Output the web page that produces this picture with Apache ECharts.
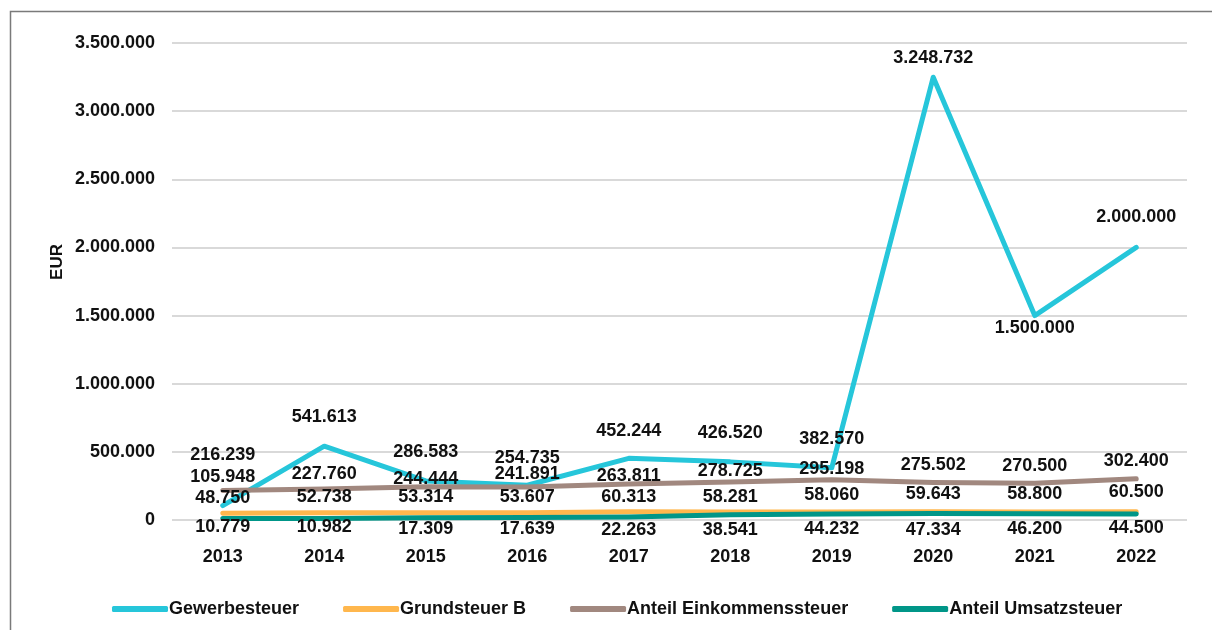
<!DOCTYPE html>
<html>
<head>
<meta charset="utf-8">
<script src="https://cdn.jsdelivr.net/npm/echarts@6/dist/echarts.min.js"></script>
<style>
  html, body { margin: 0; padding: 0; background: #fff; }
  #chart { width: 1212px; height: 630px; }
</style>
</head>
<body>
<div id="chart"></div>
<script>
const years = ['2013', '2014', '2015', '2016', '2017', '2018', '2019', '2020', '2021', '2022']
const gewerbesteuer = [105948, 541613, 286583, 254735, 452244, 426520, 382570, 3248732, 1500000, 2000000]
const grundsteuerB = [48750, 52738, 53314, 53607, 60313, 58281, 58060, 59643, 58800, 60500]
const einkommensteuer = [216239, 227760, 244444, 241891, 263811, 278725, 295198, 275502, 270500, 302400]
const umsatzsteuer = [10779, 10982, 17309, 17639, 22263, 38541, 44232, 47334, 46200, 44500]
const yTicks = [0, 500000, 1000000, 1500000, 2000000, 2500000, 3000000, 3500000]

// vertical shift of each data label (px, from the point), like the source layout
const gewShift = [-29, -29, -29, -27, -27, -29, -29, -19, 12, -30]
const grundShift = [-15, -16, -16, -16, -15, -15, -17, -18, -18, -20]
const einkShift = [-35, -15, -8, -13, -8, -11, -11, -17, -17, -18]
const umsShift = [9, 9, 11, 11, 13, 15, 15, 16, 15, 14]

const font = '"Liberation Sans", Arial, sans-serif'
// 1234567 -> 1.234.567
const fmt = v => String(v).replace(/\B(?=(\d{3})+(?!\d))/g, '.')

function makeSeries(name, values, shift, color) {
    return {
        name: name,
        type: 'line',
        symbol: 'circle',
        symbolSize: 0.1,
        lineStyle: { width: 5, color: color, cap: 'round', join: 'round' },
        itemStyle: { color: color },
        data: values.map((v, i) => ({
            value: v,
            label: { offset: [0, shift[i]] }
        })),
        label: {
            show: true,
            position: 'inside',
            color: '#111',
            fontSize: 18,
            fontWeight: 'bold',
            fontFamily: font,
            formatter: p => fmt(p.value)
        },
        emphasis: { disabled: true },
        animation: false
    }
}

let chart = echarts.init(document.getElementById('chart'))
chart.setOption({
    backgroundColor: '#fff',
    grid: { left: 172, right: 25, top: 43, bottom: 110 },
    graphic: [
        {
            type: 'rect',
            shape: { x: 10.5, y: 11.5, width: 1300, height: 700 },
            style: { fill: 'none', stroke: '#7a7a7a', lineWidth: 1.5 },
            silent: true
        },
        {
            type: 'text',
            x: 57, y: 262,
            rotation: Math.PI / 2,
            style: {
                text: 'EUR',
                fill: '#111',
                font: 'bold 17px ' + font,
                textAlign: 'center',
                textVerticalAlign: 'middle'
            }
        }
    ],
    legend: {
        left: 107,
        top: 595,
        itemWidth: 56,
        itemHeight: 6,
        itemGap: 44,
        icon: 'roundRect',
        textStyle: { color: '#111', fontSize: 18, fontWeight: 'bold', fontFamily: font, padding: [0, 0, 0, -4] },
        data: ['Gewerbesteuer', 'Grundsteuer B', 'Anteil Einkommenssteuer', 'Anteil Umsatzsteuer']
    },
    xAxis: {
        type: 'category',
        data: years,
        boundaryGap: true,
        axisLine: { show: false },
        axisTick: { show: false },
        axisLabel: {
            color: '#111', fontSize: 18, fontWeight: 'bold', fontFamily: font, margin: 28
        }
    },
    yAxis: {
        type: 'value',
        min: yTicks[0],
        max: yTicks[yTicks.length - 1],
        interval: yTicks[1] - yTicks[0],
        axisLine: { show: false },
        axisTick: { show: false },
        splitLine: { lineStyle: { color: '#d9d9d9', width: 2 } },
        axisLabel: {
            color: '#111', fontSize: 18, fontWeight: 'bold', fontFamily: font, margin: 17,
            formatter: v => fmt(v)
        }
    },
    series: [
        makeSeries('Gewerbesteuer', gewerbesteuer, gewShift, '#26C6DA'),
        makeSeries('Grundsteuer B', grundsteuerB, grundShift, '#FFB74D'),
        makeSeries('Anteil Einkommenssteuer', einkommensteuer, einkShift, '#A1887F'),
        makeSeries('Anteil Umsatzsteuer', umsatzsteuer, umsShift, '#009688')
    ]
})
</script>
</body>
</html>
